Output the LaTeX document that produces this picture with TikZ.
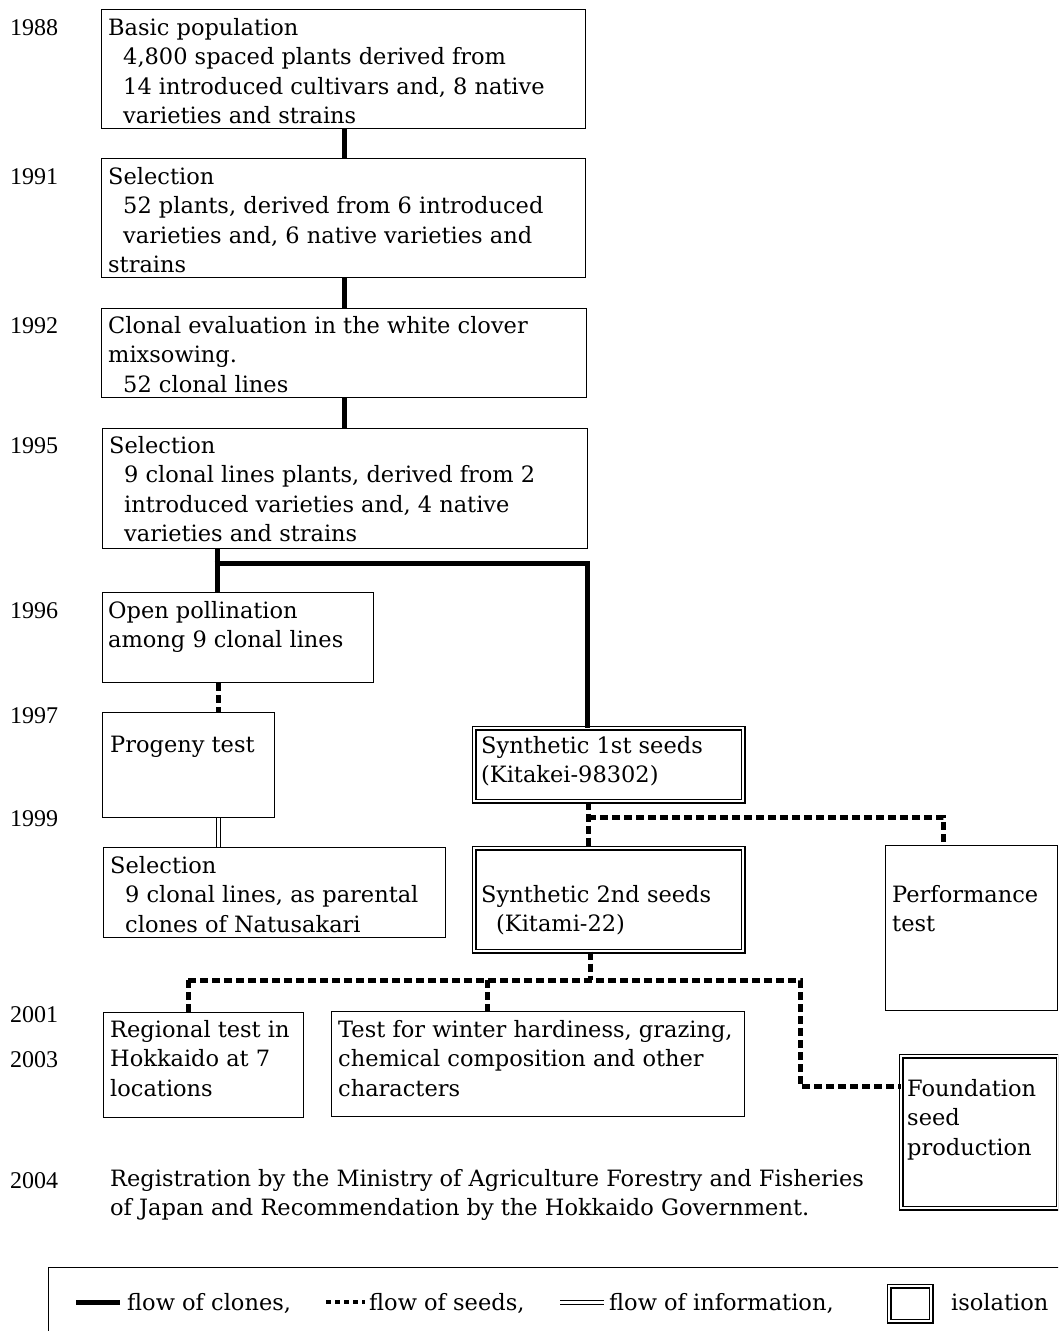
\documentclass[tikz,border=0pt]{standalone}
\usepackage{fontspec}
\setmainfont{DejaVu Serif}
\newfontfamily\yearfont{Liberation Serif}
\begin{document}
\begin{tikzpicture}[x=1pt,y=-1pt,
 box/.style={draw, line width=1pt, inner sep=0pt, anchor=north west},
 dbox/.style={draw, line width=1.1pt, double, double distance=2.8pt, inner sep=0pt, anchor=north west},
 txt/.style={anchor=north west, inner sep=0pt, align=left, yshift=20.65pt, font=\fontsize{22.5}{29.5}\selectfont},
 yr/.style={anchor=base west, inner sep=0pt, font=\yearfont\fontsize{24}{29}\selectfont},
 lg/.style={anchor=base west, inner sep=0pt, font=\fontsize{22.5}{29.5}\selectfont},
 clones/.style={line width=5pt},
 seeds/.style={line width=5pt, dash pattern=on 8pt off 4pt},
 lseeds/.style={line width=4pt, dash pattern=on 5pt off 4pt},
 info/.style={double, line width=1pt, double distance=3pt}]
\useasboundingbox (0,0) rectangle (1058,1331);
\clip (0,0) rectangle (1058,1331);
\newcommand\ind{\hspace*{15pt}}

% boxes
\node[box, minimum width=484, minimum height=119] (b1) at (101,9) {};
\node[box, minimum width=484, minimum height=119] (b2) at (101,158) {};
\node[box, minimum width=485, minimum height=89] (b3) at (101,308) {};
\node[box, minimum width=485, minimum height=120] (b4) at (102,428) {};
\node[box, minimum width=271, minimum height=90] (op) at (102,592) {};
\node[box, minimum width=172, minimum height=105] (pg) at (102,712) {};
\node[box, minimum width=342, minimum height=90] (sl) at (103,847) {};
\node[dbox, minimum width=269, minimum height=73] (s1) at (473.5,727.5) {};
\node[dbox, minimum width=269, minimum height=103] (s2) at (473.5,847.5) {};
\node[box, minimum width=172, minimum height=165] (pf) at (885,845) {};
\node[box, minimum width=200, minimum height=105] (rg) at (103,1012) {};
\node[box, minimum width=413, minimum height=105] (wt) at (331,1011) {};
\node[dbox, minimum width=157, minimum height=152] (fo) at (900.5,1055.5) {};

% texts
\node[txt] (t1) at (108,35) {\strut Basic population\\ \ind 4,800 spaced plants derived from\\ \ind 14 introduced cultivars and, 8 native\\ \ind varieties and strains};
\node[txt] (t2) at (108,184) {\strut Selection\\ \ind 52 plants, derived from 6 introduced\\ \ind varieties and, 6 native varieties and\\ strains};
\node[txt] (t3) at (108,333) {\strut Clonal evaluation in the white clover\\ mixsowing.\\ \ind 52 clonal lines};
\node[txt] (t4) at (109,453) {\strut Selection\\ \ind 9 clonal lines plants, derived from 2\\ \ind introduced varieties and, 4 native\\ \ind varieties and strains};
\node[txt] (t5) at (108,618) {\strut Open pollination\\ among 9 clonal lines};
\node[txt] (t6) at (110,752) {\strut Progeny test};
\node[txt] (t7) at (110,873) {\strut Selection\\ \ind 9 clonal lines, as parental\\ \ind clones of Natusakari};
\node[txt] (t8) at (481,753) {\strut Synthetic 1st seeds\\ (Kitakei-98302)};
\node[txt] (t9) at (481,902) {\strut Synthetic 2nd seeds\\ \ind(Kitami-22)};
\node[txt] (t10) at (892,902) {\strut Performance\\ test};
\node[txt] (t11) at (110,1037) {\strut Regional test in\\ Hokkaido at 7\\ locations};
\node[txt] (t12) at (338,1037) {\strut Test for winter hardiness, grazing,\\ chemical composition and other\\ characters};
\node[txt] (t13) at (907,1096) {\strut Foundation\\ seed\\ production};
\node[txt] (t14) at (110,1186) {\strut Registration by the Ministry of Agriculture Forestry and Fisheries\\ of Japan and Recommendation by the Hokkaido Government.};

% years
\node[yr] (y1) at (10,35) {1988};
\node[yr] (y2) at (10,184) {1991};
\node[yr] (y3) at (10,333) {1992};
\node[yr] (y4) at (10,453) {1995};
\node[yr] (y5) at (10,618) {1996};
\node[yr] (y6) at (10,723) {1997};
\node[yr] (y7) at (10,826) {1999};
\node[yr] (y8) at (10,1022) {2001};
\node[yr] (y9) at (10,1067) {2003};
\node[yr] (y10) at (10,1188) {2004};

% connectors
\coordinate (cx) at (344,0);
\draw[clones] (b1.south -| cx) -- (b2.north -| cx);
\draw[clones] (b2.south -| cx) -- (b3.north -| cx);
\draw[clones] (b3.south -| cx) -- (b4.north -| cx);
\coordinate (jl) at (217,563);
\coordinate (jr) at (587,563);
\draw[clones] (b4.south -| jl) -- (op.north -| jl);
\draw[clones, line join=miter] ([xshift=-2.5pt]jl) -- (jr) -- (s1.north -| jr);
\coordinate (ox) at (218,0);
\draw[seeds] (op.south -| ox) -- (pg.north -| ox);
\draw[info] (pg.south -| ox) -- (sl.north -| ox);
\coordinate (sx) at (588,817);
\coordinate (px) at (943,817);
\draw[seeds] (s1.south -| sx) -- (s2.north -| sx);
\draw[seeds] (sx) -- (px) -- (pf.north -| px);
\coordinate (tx) at (590,980);
\coordinate (ra) at (188,980);
\coordinate (wa) at (487,980);
\coordinate (fa) at (800,980);
\coordinate (fb) at (800,1086);
\draw[seeds] (s2.south -| tx) -- (tx);
\draw[seeds] (ra) -- (fa) -- (fb) -- (fo.west |- fb);
\draw[seeds] (ra) -- (rg.north -| ra);
\draw[seeds] (wa) -- (wt.north -| wa);

% legend
\node[box, minimum width=1040, minimum height=120] (leg) at (48,1267) {};
\coordinate (l1a) at (76,1302); \coordinate (l1b) at (120,1302);
\draw[clones] (l1a) -- (l1b);
\node[lg] (lt1) at (127,1310) {flow of clones,};
\coordinate (l2a) at (326,1302); \coordinate (l2b) at (365,1302);
\draw[lseeds] (l2a) -- (l2b);
\node[lg] (lt2) at (369,1310) {flow of seeds,};
\coordinate (l3a) at (560,1302); \coordinate (l3b) at (604,1302);
\draw[info] (l3a) -- (l3b);
\node[lg] (lt3) at (609,1310) {flow of information,};
\node[dbox, minimum width=42, minimum height=35] (lsq) at (888.5,1285.5) {};
\node[lg] (lt4) at (951,1310) {isolation};
\end{tikzpicture}
\end{document}
